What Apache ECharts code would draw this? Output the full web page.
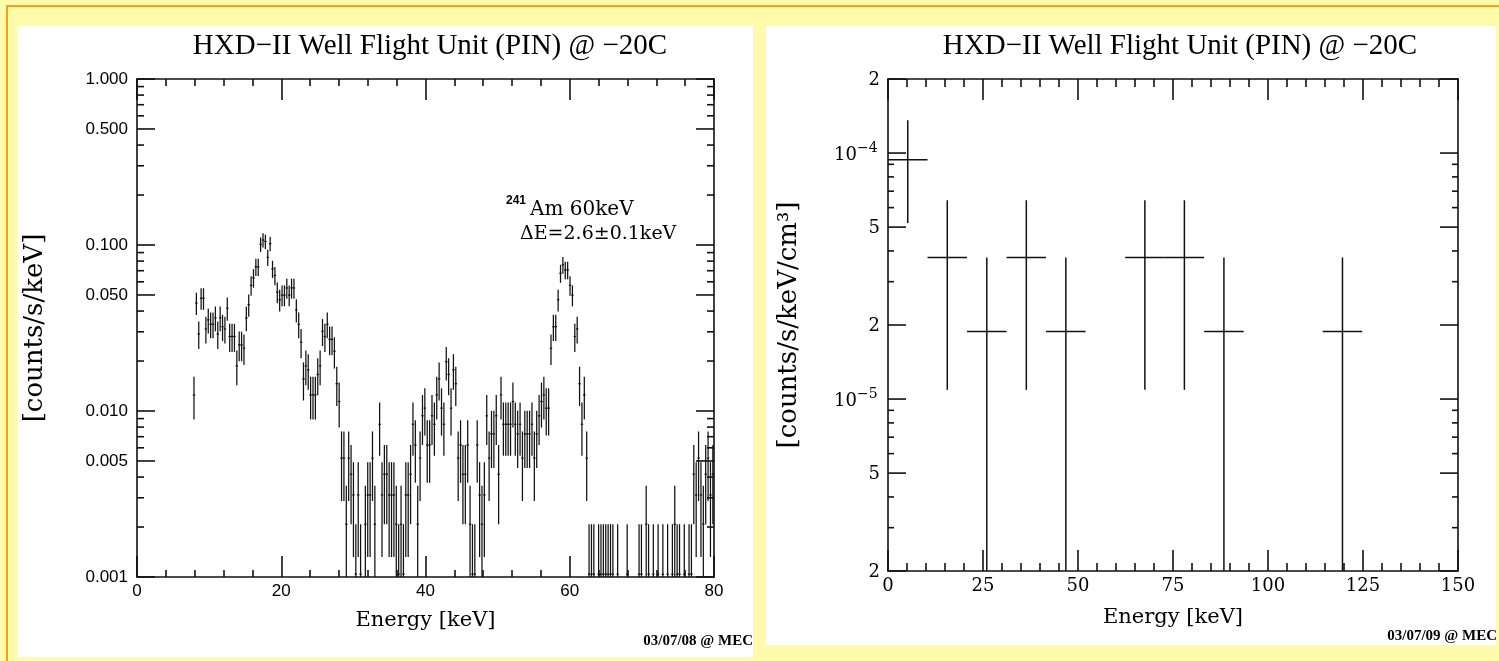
<!DOCTYPE html>
<html>
<head>
<meta charset="utf-8">
<title>HXD-II Well Flight Unit (PIN)</title>
<script src="https://cdn.jsdelivr.net/npm/echarts@6/dist/echarts.min.js"></script>
<style>
html,body{margin:0;padding:0;width:1499px;height:661px;overflow:hidden;background:#fffbaa;}
#frameTop{position:absolute;left:6px;top:5px;width:1493px;height:2px;background:#f5a01a;}
#frameLeft{position:absolute;left:6px;top:5px;width:2px;height:656px;background:#f5a01a;}
#panelL{position:absolute;left:17px;top:26px;width:736px;height:631px;background:#fff;}
#panelR{position:absolute;left:766px;top:26px;width:730px;height:619px;background:#fff;}
#chart{position:absolute;left:0;top:0;width:1499px;height:661px;}
</style>
</head>
<body>
<div id="frameTop"></div><div id="frameLeft"></div>
<div id="panelL"></div><div id="panelR"></div>
<div id="chart"></div>
<script>
// ---------------- texts ----------------
const titleText = 'HXD\u2212II Well Flight Unit (PIN) @ \u221220C';
const xName = 'Energy [keV]';
const leftYName = '[counts/s/keV]';
const rightYName = '[counts/s/keV/cm\u00b3]';
const leftStamp = '03/07/08 @ MEC';
const rightStamp = '03/07/09 @ MEC';
const noteIsotope = '241';
const noteLine1 = 'Am 60keV';
const noteLine2 = '\u0394E=2.6\u00b10.1keV';

// ---------------- left panel data (PIN spectrum) ----------------
const pinEnergy = [7.90,8.23,8.56,8.89,9.22,9.55,9.88,10.21,10.54,10.87,
11.20,11.53,11.86,12.19,12.52,12.85,13.18,13.51,13.84,14.17,
14.50,14.83,15.16,15.49,15.82,16.15,16.48,16.81,17.14,17.47,
17.80,18.13,18.46,18.79,19.12,19.45,19.78,20.11,20.44,20.77,
21.10,21.43,21.76,22.09,22.42,22.75,23.08,23.41,23.74,24.07,
24.40,24.73,25.06,25.39,25.72,26.05,26.38,26.71,27.04,27.37,
27.70,28.03,28.36,28.69,29.02,29.35,29.68,30.01,30.34,30.67,
31.00,
31.66,31.99,32.32,32.65,32.98,
33.64,33.97,34.30,34.63,34.96,35.29,35.62,35.95,36.28,36.61,
36.94,37.27,37.60,37.93,38.26,38.59,38.92,39.25,39.58,39.91,
40.24,40.57,40.90,41.23,41.56,41.89,42.22,42.55,42.88,43.21,
43.54,43.87,44.20,44.53,44.86,45.19,45.52,45.85,46.18,46.51,
46.84,47.17,47.50,47.83,48.16,48.49,48.82,49.15,49.48,49.81,
50.14,50.47,50.80,51.13,51.46,51.79,52.12,52.45,52.78,53.11,
53.44,53.77,54.10,54.43,54.76,55.09,55.42,55.75,56.08,56.41,
56.74,57.07,57.40,57.73,58.06,58.39,58.72,59.05,59.38,59.71,
60.04,60.37,60.70,61.03,61.36,61.69,62.02,62.35,62.68,63.01,
63.34,
64.00,64.33,64.66,64.99,65.32,65.65,65.98,66.64,67.96,69.61,
69.94,70.60,70.93,71.59,72.25,72.91,73.57,74.23,74.56,74.89,
75.22,75.88,76.54,76.87,
77.20,77.53,77.86,78.19,78.52,78.85,79.18,79.51,79.84];

const pinRate = [0.0125,0.0447,0.0291,0.0478,0.0478,0.0312,0.0354,0.0333,0.0333,0.0364,
0.0291,0.0364,0.0322,0.0312,0.0416,0.0281,0.0281,0.0281,0.0187,0.025,
0.025,0.0239,0.0364,0.0437,0.0572,0.0634,0.0738,0.0738,0.1009,0.1071,
0.105,0.0842,0.1019,0.0718,0.0655,0.052,0.0468,0.0499,0.0499,0.0551,
0.0499,0.0551,0.0551,0.0406,0.0333,0.026,0.0156,0.0187,0.0177,0.0125,
0.0125,0.0125,0.0166,0.0187,0.0302,0.0281,0.0333,0.027,0.027,0.0229,
0.0146,0.0114,0.0052,0.0052,0.00208,0.0052,0.00416,0.00312,0.00104,0.00312,
0.00104,
0.00208,0.00312,0.00312,0.0052,0.00208,
0.00832,0.00312,0.00416,0.00416,0.00312,0.00312,0.00312,0.00208,0.00104,0.00208,
0.00104,0.00312,0.00312,0.00416,0.00832,0.00624,0.00208,0.0052,0.00936,0.0104,
0.00624,0.00624,0.00936,0.00832,0.0125,0.0156,0.0104,0.00832,0.0198,0.0166,
0.0104,0.0177,0.0146,0.0052,0.00624,0.00416,0.00416,0.00624,0.00208,0.00104,
0.00104,0.00624,0.00312,0.00208,0.00312,0.00936,0.0052,0.00728,0.00728,0.00936,
0.00416,0.0125,0.00832,0.00832,0.00832,0.00832,0.0114,0.00832,0.00728,0.00832,
0.0052,0.00728,0.00728,0.00728,0.00832,0.0052,0.00728,0.00936,0.0114,0.0125,
0.0104,0.0104,0.0239,0.0322,0.0322,0.0468,0.0676,0.0759,0.0707,0.0707,
0.0572,0.0499,0.0281,0.0312,0.0146,0.00832,0.0125,0.0052,0.00104,0.00104,
0.00104,
0.00104,0.00104,0.00104,0.00104,0.00104,0.00104,0.00104,0.00104,0.00104,0.00104,
0.00104,0.00208,0.00104,0.00104,0.00104,0.00104,0.00104,0.00104,0.00208,0.00104,
0.00104,0.00104,0.00104,0.00104,
0.00416,0.00312,0.0052,0.00312,0.00208,0.00416,0.0052,0.00312,0.00416];

const pinErr = [0.0036,0.0068,0.0055,0.0071,0.0071,0.0057,0.0061,0.0059,0.0059,0.0062,
0.0055,0.0062,0.0058,0.0057,0.0066,0.0054,0.0054,0.0054,0.00441,0.00509,
0.00509,0.00499,0.0062,0.0067,0.0077,0.0081,0.0088,0.0088,0.0102,0.0106,
0.0105,0.0094,0.0103,0.0086,0.0083,0.0074,0.007,0.0072,0.0072,0.0076,
0.0072,0.0076,0.0076,0.0065,0.0059,0.0052,0.00403,0.00441,0.00429,0.0036,
0.0036,0.0036,0.00416,0.00441,0.0056,0.0054,0.0059,0.0053,0.0053,0.00488,
0.00389,0.00345,0.00233,0.00233,0.00147,0.00233,0.00208,0.0018,0.00104,0.0018,
0.00104,
0.00147,0.0018,0.0018,0.00233,0.00147,
0.00294,0.0018,0.00208,0.00208,0.0018,0.0018,0.0018,0.00147,0.00104,0.00147,
0.00104,0.0018,0.0018,0.00208,0.00294,0.00255,0.00147,0.00233,0.00312,0.00329,
0.00255,0.00255,0.00312,0.00294,0.0036,0.00403,0.00329,0.00294,0.00453,0.00416,
0.00329,0.00429,0.00389,0.00233,0.00255,0.00208,0.00208,0.00255,0.00147,0.00104,
0.00104,0.00255,0.0018,0.00147,0.0018,0.00312,0.00233,0.00275,0.00275,0.00312,
0.00208,0.0036,0.00294,0.00294,0.00294,0.00294,0.00345,0.00294,0.00275,0.00294,
0.00233,0.00275,0.00275,0.00275,0.00294,0.00233,0.00275,0.00312,0.00345,0.0036,
0.00329,0.00329,0.00499,0.0058,0.0058,0.007,0.0084,0.0089,0.0086,0.0086,
0.0077,0.0072,0.0054,0.0057,0.00389,0.00294,0.0036,0.00233,0.00104,0.00104,
0.00104,
0.00104,0.00104,0.00104,0.00104,0.00104,0.00104,0.00104,0.00104,0.00104,0.00104,
0.00104,0.00147,0.00104,0.00104,0.00104,0.00104,0.00104,0.00104,0.00147,0.00104,
0.00104,0.00104,0.00104,0.00104,
0.00208,0.0018,0.00233,0.0018,0.00147,0.00208,0.00233,0.0018,0.00208];

const pinHalfWidth = 0.165;

// ---------------- right panel data (Well unit) ----------------
const wellEnergy = [5.2, 15.6, 26.0, 36.4, 46.8, 67.6, 78.0, 88.4, 119.6];
const wellHalfWidth = [5.2, 5.2, 5.2, 5.2, 5.2, 5.2, 5.2, 5.2, 5.2];
const wellRate = [9.4e-5, 3.76e-5, 1.88e-5, 3.76e-5, 1.88e-5, 3.76e-5, 3.76e-5, 1.88e-5, 1.88e-5];
const wellErr  = [4.2e-5, 2.67e-5, 1.88e-5, 2.67e-5, 1.88e-5, 2.67e-5, 2.67e-5, 1.88e-5, 1.88e-5];

// ---------------- axes / ticks ----------------
const leftXRange = [0, 80], leftXStep = 20;
const rightXRange = [0, 150], rightXStep = 25;
const leftYRange = [0.001, 1];
const rightYRange = [2e-6, 2e-4];
const leftYMajor = [1, 0.5, 0.1, 0.05, 0.01, 0.005, 0.001];
const leftYLabels = ['1.000', '0.500', '0.100', '0.050', '0.010', '0.005', '0.001'];
const leftYMinor = [0.9,0.8,0.7,0.6,0.4,0.3,0.2, 0.09,0.08,0.07,0.06,0.04,0.03,0.02, 0.009,0.008,0.007,0.006,0.004,0.003,0.002];
const rightYMajor = [2e-4, 1e-4, 5e-5, 2e-5, 1e-5, 5e-6, 2e-6];
const rightYLabelBase = ['2', '10', '5', '2', '10', '5', '2'];
const rightYLabelExp = ['', '\u22124', '', '', '\u22125', '', ''];
const rightYMinor = [9e-5,8e-5,7e-5,6e-5,4e-5,3e-5, 9e-6,8e-6,7e-6,6e-6,4e-6,3e-6];

// ---------------- rendering ----------------
const INK = '#111';
const SERIF = '"DejaVu Serif", serif';
const TSERIF = '"Liberation Serif", "Times New Roman", serif';
const SANS = '"Liberation Sans", Arial, sans-serif';

function errorBarItem(yFloor, width) {
  return function (params, api) {
    const x = api.value(0), y = api.value(1), e = api.value(2), hw = api.value(3);
    const lo = Math.max(y - e, yFloor);
    const a = api.coord([x, y + e]), b = api.coord([x, lo]);
    const l = api.coord([x - hw, y]), r = api.coord([x + hw, y]);
    const st = { stroke: INK, lineWidth: width };
    return { type: 'group', children: [
      { type: 'line', shape: { x1: a[0], y1: a[1], x2: b[0], y2: b[1] }, style: st },
      { type: 'line', shape: { x1: l[0], y1: l[1], x2: r[0], y2: r[1] }, style: st }
    ]};
  };
}

function yTickItem(len, labelFn) {
  return function (params, api) {
    const cs = params.coordSys;
    const y = api.coord([api.value(0), api.value(1)])[1];
    const st = { stroke: INK, lineWidth: 1.6 };
    const ch = [
      { type: 'line', shape: { x1: cs.x, y1: y, x2: cs.x + len, y2: y }, style: st },
      { type: 'line', shape: { x1: cs.x + cs.width, y1: y, x2: cs.x + cs.width - len, y2: y }, style: st }
    ];
    if (labelFn) labelFn(ch, params.dataIndex, cs, y);
    return { type: 'group', children: ch };
  };
}

function leftLabels(ch, i, cs, y) {
  ch.push({ type: 'text', x: cs.x - 9, y: y,
    style: { text: leftYLabels[i], fill: '#000', font: '17px ' + SANS, align: 'right', verticalAlign: 'middle' } });
}
function rightLabels(ch, i, cs, y) {
  if (!rightYLabelExp[i]) {
    ch.push({ type: 'text', x: cs.x - 8, y: y + 1,
      style: { text: rightYLabelBase[i], fill: '#000', font: '18px ' + SERIF, align: 'right', verticalAlign: 'middle' } });
  } else {
    ch.push({ type: 'text', x: cs.x - 31, y: y + 2,
      style: { text: rightYLabelBase[i], fill: '#000', font: '18px ' + SERIF, align: 'right', verticalAlign: 'middle' } });
    ch.push({ type: 'text', x: cs.x - 31, y: y - 5,
      style: { text: rightYLabelExp[i], fill: '#000', font: '14px ' + SERIF, align: 'left', verticalAlign: 'middle' } });
  }
}

function xAxisCfg(gridIndex, range, step, minorLen, position, labelFont, nameGap) {
  const bottom = position === 'bottom';
  return {
    gridIndex, type: 'value', min: range[0], max: range[1], interval: step, position,
    axisLine: { show: true, onZero: false, lineStyle: { color: INK, width: 1.6 } },
    axisTick: { show: true, inside: true, length: 21, lineStyle: { color: INK, width: 1.6 } },
    minorTick: { show: true, splitNumber: 5, length: minorLen, lineStyle: { color: INK, width: 1.6 } },
    splitLine: { show: false }, minorSplitLine: { show: false },
    axisLabel: { show: bottom, margin: 6, color: '#000', fontFamily: labelFont.family, fontSize: labelFont.size,
                 showMinLabel: true, showMaxLabel: true, hideOverlap: false },
    name: bottom ? xName : '', nameLocation: 'middle', nameGap: nameGap,
    nameTextStyle: { fontFamily: SERIF, fontSize: 21, color: '#000', verticalAlign: 'middle' }
  };
}
function yAxisCfg(gridIndex, range, position, name, nameGap) {
  return {
    gridIndex, type: 'log', logBase: 10, min: range[0], max: range[1], position,
    axisLine: { show: true, onZero: false, lineStyle: { color: INK, width: 1.6 } },
    axisTick: { show: false }, axisLabel: { show: false }, splitLine: { show: false },
    name: name, nameLocation: 'middle', nameGap: nameGap, nameRotate: 90,
    nameTextStyle: { fontFamily: SERIF, fontSize: 26, color: '#000', verticalAlign: 'middle' }
  };
}

const chart = echarts.init(document.getElementById('chart'), null, { renderer: 'canvas' });
chart.setOption({
  backgroundColor: 'transparent',
  animation: false,
  title: [
    { text: titleText, left: 425, top: 27, textAlign: 'center',
      textStyle: { fontFamily: TSERIF, fontSize: 29, fontWeight: 'normal', color: '#000' } },
    { text: titleText, left: 1175, top: 27, textAlign: 'center',
      textStyle: { fontFamily: TSERIF, fontSize: 29, fontWeight: 'normal', color: '#000' } }
  ],
  grid: [
    { left: 137, top: 79, width: 577, height: 498, outerBoundsMode: 'none', containLabel: false },
    { left: 888, top: 79, width: 570, height: 492, outerBoundsMode: 'none', containLabel: false }
  ],
  xAxis: [
    xAxisCfg(0, leftXRange, leftXStep, 7, 'bottom', { family: SANS, size: 17 }, 44),
    xAxisCfg(0, leftXRange, leftXStep, 7, 'top', { family: SANS, size: 17 }, 0),
    xAxisCfg(1, rightXRange, rightXStep, 8, 'bottom', { family: SERIF, size: 18 }, 47),
    xAxisCfg(1, rightXRange, rightXStep, 8, 'top', { family: SERIF, size: 18 }, 0)
  ],
  yAxis: [
    yAxisCfg(0, leftYRange, 'left', leftYName, 102),
    yAxisCfg(0, leftYRange, 'right', '', 0),
    yAxisCfg(1, rightYRange, 'left', rightYName, 99),
    yAxisCfg(1, rightYRange, 'right', '', 0)
  ],
  series: [
    { type: 'custom', name: 'PIN major ticks', xAxisIndex: 0, yAxisIndex: 0, silent: true, clip: false,
      renderItem: yTickItem(18, leftLabels), encode: { x: 0, y: 1 },
      data: leftYMajor.map(v => [leftXRange[0], v]) },
    { type: 'custom', name: 'PIN minor ticks', xAxisIndex: 0, yAxisIndex: 0, silent: true, clip: false,
      renderItem: yTickItem(7, null), encode: { x: 0, y: 1 },
      data: leftYMinor.map(v => [leftXRange[0], v]) },
    { type: 'custom', name: 'PIN spectrum', xAxisIndex: 0, yAxisIndex: 0, silent: true, clip: false,
      renderItem: errorBarItem(leftYRange[0], 1.25), encode: { x: 0, y: 1 },
      data: pinEnergy.map((x, i) => [x, pinRate[i], pinErr[i], pinHalfWidth]) },
    { type: 'custom', name: 'Well major ticks', xAxisIndex: 2, yAxisIndex: 2, silent: true, clip: false,
      renderItem: yTickItem(18, rightLabels), encode: { x: 0, y: 1 },
      data: rightYMajor.map(v => [rightXRange[0], v]) },
    { type: 'custom', name: 'Well minor ticks', xAxisIndex: 2, yAxisIndex: 2, silent: true, clip: false,
      renderItem: yTickItem(6, null), encode: { x: 0, y: 1 },
      data: rightYMinor.map(v => [rightXRange[0], v]) },
    { type: 'custom', name: 'Well spectrum', xAxisIndex: 2, yAxisIndex: 2, silent: true, clip: false,
      renderItem: errorBarItem(rightYRange[0], 1.5), encode: { x: 0, y: 1 },
      data: wellEnergy.map((x, i) => [x, wellRate[i], wellErr[i], wellHalfWidth[i]]) }
  ],
  graphic: [
    { type: 'text', x: 753, y: 641, silent: true,
      style: { text: leftStamp, fill: '#000', font: 'bold 15px "Liberation Serif", serif', align: 'right', textAlign: 'right', verticalAlign: 'middle', textVerticalAlign: 'middle' } },
    { type: 'text', x: 1497, y: 636, silent: true,
      style: { text: rightStamp, fill: '#000', font: 'bold 15px "Liberation Serif", serif', align: 'right', textAlign: 'right', verticalAlign: 'middle', textVerticalAlign: 'middle' } },
    { type: 'text', x: 506, y: 201, silent: true,
      style: { text: noteIsotope, fill: '#000', font: 'bold 12px "Liberation Sans", sans-serif', align: 'left', textAlign: 'left', verticalAlign: 'middle', textVerticalAlign: 'middle' } },
    { type: 'text', x: 530, y: 210, silent: true,
      style: { text: noteLine1, fill: '#000', font: '20px ' + SERIF, align: 'left', textAlign: 'left', verticalAlign: 'middle', textVerticalAlign: 'middle' } },
    { type: 'text', x: 520, y: 234, silent: true,
      style: { text: noteLine2, fill: '#000', font: '19px ' + SERIF, align: 'left', textAlign: 'left', verticalAlign: 'middle', textVerticalAlign: 'middle' } }
  ]
});
</script>
</body>
</html>
